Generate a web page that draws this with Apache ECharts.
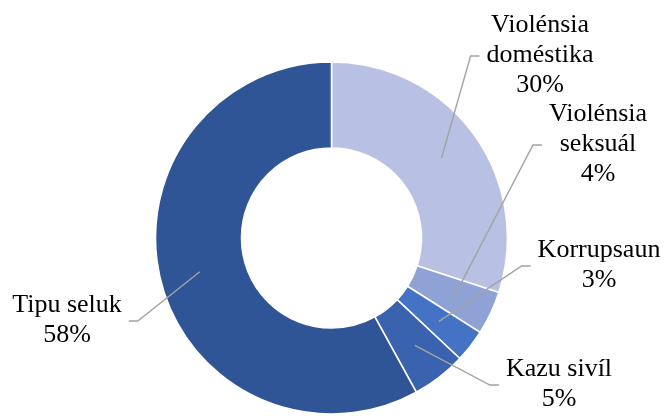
<!DOCTYPE html>
<html>
<head>
<meta charset="utf-8">
<style>
    html, body { margin: 0; padding: 0; background: #fff; }
    #chart { width: 667px; height: 416px; }
</style>
<script src="https://cdn.jsdelivr.net/npm/echarts@6/dist/echarts.min.js"></script>
</head>
<body>
<div id="chart"></div>
<script>
// data
const categories = ['Violénsia\ndoméstika', 'Violénsia\nseksuál', 'Korrupsaun', 'Kazu sivíl', 'Tipu seluk']
const values = [30, 4, 3, 5, 58]
const colors = ['#B8C1E3', '#8FA2D6', '#4472C4', '#3A63AF', '#2F5597']

// geometry
const cx = 331.5, cy = 238
const rIn = 90, rOut = 176
const lineR = 136   // where leader lines start inside the ring
// label centres, placed by hand like the original
const spots = [[540, 55], [598, 144], [599, 265], [559, 384], [67, 320]]

const chart = echarts.init(document.getElementById('chart'))

const total = values.reduce((a, b) => a + b, 0)
const midDir = (i) => {
    let before = 0
    for (let k = 0; k < i; k++) before += values[k]
    const a = ((before + values[i] / 2) / total) * Math.PI * 2
    return [Math.sin(a), -Math.cos(a)]
}

const base = {
    type: 'pie',
    center: [cx, cy],
    radius: [rIn, rOut],
    startAngle: 90,
    clockwise: true,
    avoidLabelOverlap: false,
    percentPrecision: 0,
    emphasis: { disabled: true },
    silent: true
}

const option = {
    backgroundColor: '#fff',
    animation: false,
    series: [
        // the ring itself
        Object.assign({}, base, {
            z: 2,
            data: categories.map((name, i) => ({
                name: name,
                value: values[i],
                itemStyle: { color: colors[i] }
            })),
            itemStyle: {
                borderColor: '#fff',
                borderWidth: 1.6
            },
            label: { show: false },
            labelLine: { show: false }
        }),
        // invisible copy on top, only for labels + leader lines
        Object.assign({}, base, {
            z: 5,
            data: categories.map((name, i) => ({ name: name, value: values[i] })),
            itemStyle: { color: 'rgba(0,0,0,0)', borderWidth: 0 },
            label: {
                show: true,
                position: 'outside',
                formatter: '{b}\n{d}%',
                fontFamily: 'Liberation Serif',
                fontSize: 26,
                lineHeight: 30,
                color: '#000',
                align: 'center'
            },
            labelLine: {
                show: true,
                lineStyle: { color: '#A3A3A3', width: 1.4 }
            },
            labelLayout: function (p) {
                const i = p.dataIndex
                const pts = p.labelLinePoints
                let ux, uy
                if (pts && pts.length) {
                    const dx = pts[0][0] - cx, dy = pts[0][1] - cy
                    const len = Math.hypot(dx, dy) || 1
                    ux = dx / len; uy = dy / len
                } else {
                    [ux, uy] = midDir(i)
                }
                const start = [cx + ux * lineR, cy + uy * lineR]
                const lx = spots[i][0], ly = spots[i][1]
                const w = p.labelRect.width
                const right = lx > cx
                const endX = right ? lx - w / 2 - 7 : lx + w / 2 + 7
                const elbowX = right ? endX - 9 : endX + 9
                return {
                    x: lx,
                    y: ly,
                    align: 'center',
                    verticalAlign: 'middle',
                    labelLinePoints: [start, [elbowX, ly + 1], [endX, ly + 1]]
                }
            }
        })
    ]
}
chart.setOption(option)
</script>
</body>
</html>
